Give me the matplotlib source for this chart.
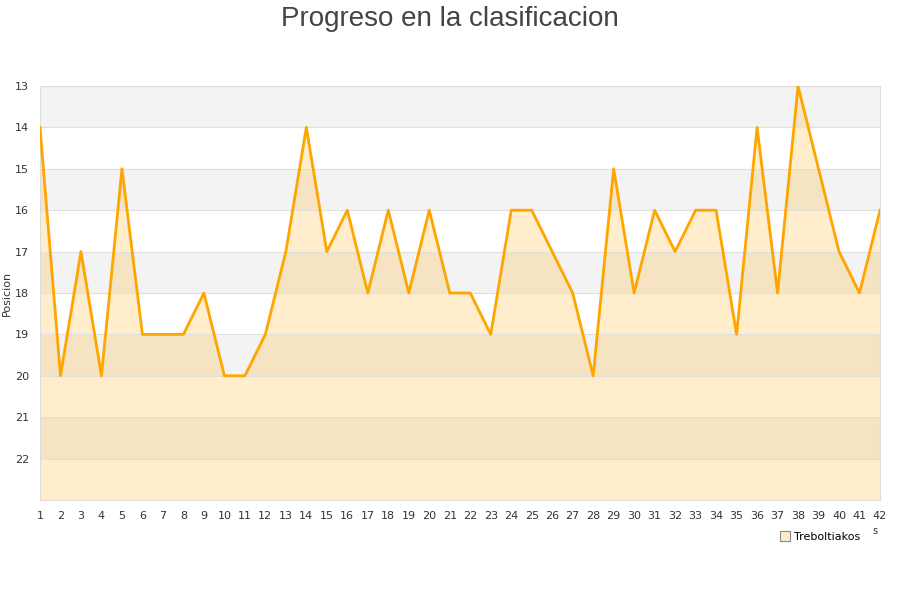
import matplotlib
matplotlib.use("Agg")
import matplotlib.pyplot as plt

JORNADAS = list(range(1, 43))
POSICION = [14, 20, 17, 20, 15, 19, 19, 19, 18, 20,
            20, 19, 17, 14, 17, 16, 18, 16, 18, 16,
            18, 18, 19, 16, 16, 17, 18, 20, 15, 18,
            16, 17, 16, 16, 19, 14, 18, 13, 15, 17,
            18, 16]
Y_TICKS = list(range(13, 23))
TEAM = "Treboltiakos"

LINE_COLOR = "#FFA500"
GRID_COLOR = "#e0e0e0"
TEXT_COLOR = "#444444"

fig = plt.figure(figsize=(9, 6), dpi=100)
ax = fig.add_axes([40 / 900, 100 / 600, 840 / 900, 414 / 600])

ax.set_xlim(1, 42)
ax.set_ylim(23, 13)

# alternating stripes
for y0 in range(13, 23, 2):
    ax.axhspan(y0, y0 + 1, color="#f3f3f3", zorder=0, lw=0)

ax.fill_between(JORNADAS, POSICION, 23, color=LINE_COLOR, alpha=0.2, lw=0, zorder=1)
ax.plot(JORNADAS, POSICION, color=LINE_COLOR, lw=2, zorder=3)

ax.set_yticks(Y_TICKS)
ax.set_xticks(JORNADAS)
ax.tick_params(axis="both", length=0, labelsize=8, colors="#333333")
ax.tick_params(axis="y", pad=8)
ax.tick_params(axis="x", pad=8)
for y in Y_TICKS + [23]:
    ax.axhline(y, color=GRID_COLOR, lw=0.8, zorder=2)

for side in ["left", "bottom", "top", "right"]:
    ax.spines[side].set_color("#dddddd")

ax.set_ylabel("Posicion", fontsize=8, color="#333333", labelpad=2)

fig.text(0.5, 1 - 19 / 600, "Progreso en la clasificacion", ha="center", va="center",
         fontsize=20, color=TEXT_COLOR, family="Liberation Sans")

handle = plt.Line2D([], [], ls="", marker="s", ms=7, mfc="#ffeccc", mec="#888888", mew=0.8)
fig.legend([handle], [TEAM], loc="center", bbox_to_anchor=(820 / 900, 1 - 537 / 600),
           frameon=False, fontsize=8, handletextpad=0.3, handlelength=1)
fig.text(875 / 900, 1 - 531 / 600, "s", fontsize=7, color="#333333", ha="center", va="center")

fig.savefig("out.png", dpi=100)
